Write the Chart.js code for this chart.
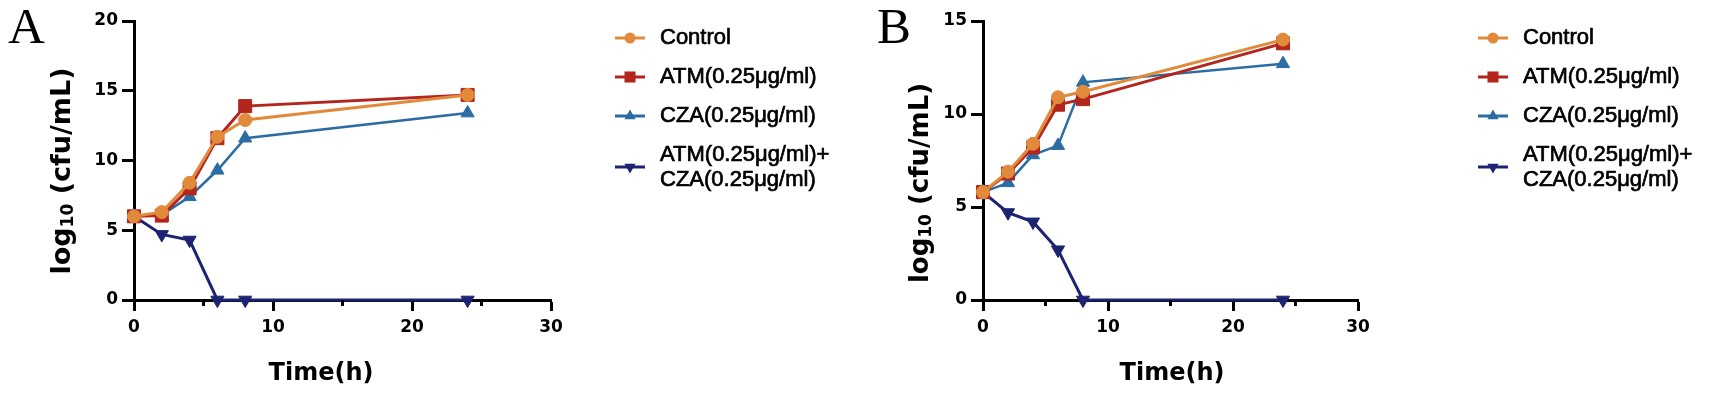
<!DOCTYPE html>
<html><head><meta charset="utf-8">
<script src="https://cdn.jsdelivr.net/npm/chart.js@4"></script>
<style>
html,body{margin:0;padding:0;background:#fff;}
#wrap{position:relative;width:1712px;height:400px;background:#fff;}
canvas{position:absolute;top:0;}
</style></head><body>
<div id="wrap">
<canvas id="cA" style="left:0;width:856px;height:400px"></canvas>
<canvas id="cB" style="left:856px;width:856px;height:400px"></canvas>
</div>
<script>
// ---- data ----
const timePoints = [0, 2, 4, 6, 8, 24];
const seriesLabels = ['Control', 'ATM(0.25μg/ml)', 'CZA(0.25μg/ml)', 'ATM(0.25μg/ml)+\nCZA(0.25μg/ml)'];
const controlA = [6.0, 6.3, 8.4, 11.7, 12.9, 14.7];
const atmA     = [6.0, 6.05, 8.0, 11.6, 13.9, 14.7];
const czaA     = [6.0, 6.1, 7.4, 9.3, 11.6, 13.4];
const comboA   = [6.0, 4.7, 4.3, 0, 0, 0];
const controlB = [5.8, 6.9, 8.4, 10.9, 11.2, 14.0];
const atmB     = [5.8, 6.8, 8.2, 10.5, 10.8, 13.8];
const czaB     = [5.8, 6.3, 7.8, 8.3, 11.7, 12.7];
const comboB   = [5.8, 4.7, 4.2, 2.7, 0, 0];
const xTicksMajor = [0, 10, 20, 30];
const xTicksMinor = [5, 15, 25];
const yTicksA = [0, 5, 10, 15, 20];
const yTicksB = [0, 5, 10, 15];
const panelLetters = ['A', 'B'];
const xTitle = 'Time(h)';
const yTitleParts = ['log', '10', ' (cfu/mL)'];

// ---- styles ----
const colors = ['#E28A3B', '#B3261E', '#2B6CA3', '#1C2372'];
const pointStyles = ['circle', 'rect', 'triangle', 'triangle'];
const pointRot = [0, 0, 0, 180];
const pointRadii = [6.5, 9.2, 7.6, 7.6];
const lineWidths = [3, 3, 2.5, 3];

function buildDatasets(arrs) {
  return arrs.map((vals, i) => ({
    label: seriesLabels[i],
    data: timePoints.map((t, j) => ({x: t, y: vals[j]})),
    borderColor: colors[i],
    backgroundColor: colors[i],
    pointBackgroundColor: colors[i],
    pointBorderColor: colors[i],
    pointBorderWidth: 1,
    pointStyle: pointStyles[i],
    rotation: pointRot[i],
    pointRadius: pointRadii[i],
    borderWidth: lineWidths[i],
    tension: 0,
    clip: false
  }));
}

function drawMarker(ctx, style, rot, r, x, y, color) {
  ctx.save();
  ctx.fillStyle = color;
  ctx.beginPath();
  if (style === 'circle') {
    ctx.arc(x, y, r, 0, Math.PI * 2);
  } else if (style === 'rect') {
    const s = Math.SQRT1_2 * r;
    ctx.rect(x - s, y - s, 2 * s, 2 * s);
  } else {
    let rad = rot * Math.PI / 180;
    for (let k = 0; k < 3; k++) {
      const px = x + Math.sin(rad) * r, py = y - Math.cos(rad) * r;
      if (k === 0) ctx.moveTo(px, py); else ctx.lineTo(px, py);
      rad += 2 * Math.PI / 3;
    }
    ctx.closePath();
  }
  ctx.fill();
  ctx.restore();
}

function heavyText(ctx, txt, x, y) {
  ctx.fillText(txt, x, y);
  ctx.strokeText(txt, x, y);
}

const decorPlugin = {
  id: 'decor',
  afterDraw(chart) {
    const o = chart.options.plugins.decor;
    const ctx = chart.ctx;
    const xs = chart.scales.x;
    const area = chart.chartArea;
    ctx.save();
    // minor ticks
    ctx.strokeStyle = '#000';
    ctx.lineWidth = 3;
    xTicksMinor.forEach(v => {
      const px = xs.getPixelForValue(v);
      ctx.beginPath();
      ctx.moveTo(px, area.bottom);
      ctx.lineTo(px, area.bottom + 6);
      ctx.stroke();
    });
    // panel letter
    ctx.fillStyle = '#000';
    ctx.font = '51px "Liberation Serif"';
    ctx.textAlign = 'left';
    ctx.textBaseline = 'alphabetic';
    ctx.fillText(o.letter, o.letterX, 43);
    // x title
    ctx.font = 'bold 24px "DejaVu Sans"';
    ctx.textAlign = 'center';
    ctx.fillText(xTitle, o.xTitleX, 380);
    // y title with subscript
    ctx.save();
    ctx.translate(o.yTitleX, o.yTitleY);
    ctx.rotate(-Math.PI / 2);
    ctx.textAlign = 'left';
    const fMain = 'bold ' + o.yFont + 'px "DejaVu Sans"';
    const fSub = 'bold 17px "DejaVu Sans"';
    ctx.font = fMain; const w0 = ctx.measureText(yTitleParts[0]).width;
    ctx.font = fSub; const w1 = ctx.measureText(yTitleParts[1]).width;
    ctx.font = fMain; const w2 = ctx.measureText(yTitleParts[2]).width;
    let cx = -(w0 + w1 + w2) / 2;
    ctx.font = fMain; ctx.fillText(yTitleParts[0], cx, 0); cx += w0;
    ctx.font = fSub; ctx.fillText(yTitleParts[1], cx, 3); cx += w1;
    ctx.font = fMain; ctx.fillText(yTitleParts[2], cx, 0);
    ctx.restore();
    // legend
    const rowsY = [38, 77, 116, 167];
    ctx.font = '22px "Liberation Sans"';
    ctx.textAlign = 'left';
    ctx.textBaseline = 'middle';
    chart.data.datasets.forEach((ds, i) => {
      const y = rowsY[i];
      ctx.strokeStyle = colors[i];
      ctx.lineWidth = 3;
      ctx.beginPath();
      ctx.moveTo(o.legX, y);
      ctx.lineTo(o.legX + 30, y);
      ctx.stroke();
      drawMarker(ctx, pointStyles[i], pointRot[i], pointRadii[i] * 0.85, o.legX + 15, y, colors[i]);
      ctx.fillStyle = '#000';
      ctx.strokeStyle = '#000';
      ctx.lineWidth = 0.7;
      const lines = ds.label.split('\n');
      if (lines.length === 1) {
        heavyText(ctx, lines[0], o.legTextX, y);
      } else {
        heavyText(ctx, lines[0], o.legTextX, y - 12);
        heavyText(ctx, lines[1], o.legTextX, y + 13);
      }
    });
    ctx.restore();
  }
};

function makeChart(id, arrs, yTicks, yMax, geom) {
  return new Chart(document.getElementById(id), {
    type: 'line',
    data: {datasets: buildDatasets(arrs)},
    plugins: [decorPlugin],
    options: {
      responsive: false,
      animation: false,
      devicePixelRatio: 1,
      layout: {padding: {left: 0, right: geom.padRight, top: 21, bottom: 0}},
      plugins: {
        legend: {display: false},
        tooltip: {enabled: false},
        decor: geom.decor
      },
      scales: {
        x: {
          type: 'linear', min: 0, max: 30,
          afterBuildTicks: s => { s.ticks = xTicksMajor.map(v => ({value: v})); },
          afterFit: s => { s.height = 100; },
          grid: {display: true, drawOnChartArea: false, drawTicks: true, tickLength: 11, tickWidth: 3, tickColor: '#000'},
          border: {display: true, color: '#000', width: 3},
          ticks: {color: '#000', padding: 6, maxRotation: 0, font: {family: 'DejaVu Sans', weight: 'bold', size: 17}}
        },
        y: {
          type: 'linear', min: 0, max: yMax,
          afterBuildTicks: s => { s.ticks = yTicks.map(v => ({value: v})); },
          afterFit: s => { s.width = geom.yWidth; },
          grid: {display: true, drawOnChartArea: false, drawTicks: true, tickLength: 12, tickWidth: 3, tickColor: '#000'},
          border: {display: true, color: '#000', width: 3},
          ticks: {color: '#000', padding: 4, font: {family: 'DejaVu Sans', weight: 'bold', size: 17}}
        }
      }
    }
  });
}

function setSize(id) {
  const c = document.getElementById(id);
  c.width = 856; c.height = 400;
}
setSize('cA'); setSize('cB');

makeChart('cA', [controlA, atmA, czaA, comboA], yTicksA, 20, {
  padRight: 305, yWidth: 134,
  decor: {letter: panelLetters[0], letterX: 8, xTitleX: 321, yTitleX: 70, yTitleY: 171, yFont: 27, legX: 615, legTextX: 660}
});
makeChart('cB', [controlB, atmB, czaB, comboB], yTicksB, 15, {
  padRight: 354, yWidth: 127,
  decor: {letter: panelLetters[1], letterX: 21, xTitleX: 316, yTitleX: 72, yTitleY: 183, yFont: 26, legX: 622, legTextX: 667}
});
</script>
</body></html>
